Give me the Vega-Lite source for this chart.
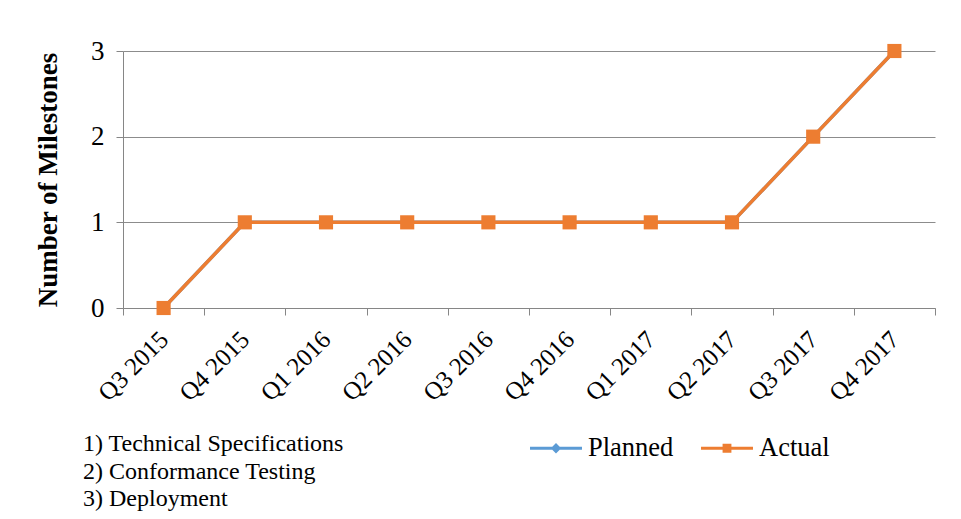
{
  "$schema": "https://vega.github.io/schema/vega-lite/v6.json",
  "width": 812,
  "height": 257,
  "autosize": "none",
  "padding": {"left": 123, "top": 51, "right": 26, "bottom": 211},
  "background": "white",
  "config": {
    "view": {"stroke": null},
    "font": "Liberation Serif"
  },
  "title": {
    "text": ["1) Technical Specifications", "2) Conformance Testing", "3) Deployment"],
    "orient": "bottom",
    "anchor": "start",
    "frame": "group",
    "dx": -40,
    "dy": -30,
    "offset": 0,
    "font": "Liberation Serif",
    "fontSize": 24,
    "fontWeight": "normal",
    "lineHeight": 27.5,
    "color": "black"
  },
  "data": {
    "values": [
      {"q": "Q3 2015", "series": "Planned", "v": 0},
      {"q": "Q4 2015", "series": "Planned", "v": 1},
      {"q": "Q1 2016", "series": "Planned", "v": 1},
      {"q": "Q2 2016", "series": "Planned", "v": 1},
      {"q": "Q3 2016", "series": "Planned", "v": 1},
      {"q": "Q4 2016", "series": "Planned", "v": 1},
      {"q": "Q1 2017", "series": "Planned", "v": 1},
      {"q": "Q2 2017", "series": "Planned", "v": 1},
      {"q": "Q3 2017", "series": "Planned", "v": 2},
      {"q": "Q4 2017", "series": "Planned", "v": 3},
      {"q": "Q3 2015", "series": "Actual", "v": 0},
      {"q": "Q4 2015", "series": "Actual", "v": 1},
      {"q": "Q1 2016", "series": "Actual", "v": 1},
      {"q": "Q2 2016", "series": "Actual", "v": 1},
      {"q": "Q3 2016", "series": "Actual", "v": 1},
      {"q": "Q4 2016", "series": "Actual", "v": 1},
      {"q": "Q1 2017", "series": "Actual", "v": 1},
      {"q": "Q2 2017", "series": "Actual", "v": 1},
      {"q": "Q3 2017", "series": "Actual", "v": 2},
      {"q": "Q4 2017", "series": "Actual", "v": 3}
    ]
  },
  "encoding": {
    "x": {
      "field": "q",
      "type": "ordinal",
      "sort": null,
      "scale": {"type": "band", "paddingInner": 0, "paddingOuter": 0},
      "axis": {
        "title": null,
        "tickBand": "extent",
        "domainColor": "#868686",
        "tickColor": "#868686",
        "tickSize": 7,
        "labelAngle": -45,
        "labelAlign": "right",
        "labelBaseline": "middle",
        "labelPadding": 20,
        "labelFont": "Liberation Serif",
        "labelFontSize": 25,
        "labelColor": "black",
        "grid": false
      }
    },
    "y": {
      "field": "v",
      "type": "quantitative",
      "scale": {"domain": [0, 3]},
      "axis": {
        "values": [0, 1, 2, 3],
        "format": "d",
        "title": "Number of Milestones",
        "titleFont": "Liberation Serif",
        "titleFontSize": 27,
        "titleFontWeight": "bold",
        "titleColor": "black",
        "titlePadding": 28,
        "domainColor": "#868686",
        "tickColor": "#868686",
        "tickSize": 7,
        "labelPadding": 12,
        "labelFont": "Liberation Serif",
        "labelFontSize": 27,
        "labelColor": "black",
        "grid": true,
        "gridColor": "#8c8c8c",
        "gridWidth": 1
      }
    },
    "color": {
      "field": "series",
      "type": "nominal",
      "sort": ["Planned", "Actual"],
      "scale": {"domain": ["Planned", "Actual"], "range": ["#5B9BD5", "#ED7D31"]},
      "legend": {
        "title": null,
        "orient": "none",
        "legendX": 407,
        "legendY": 371,
        "direction": "horizontal",
        "columns": 2,
        "columnPadding": 27,
        "labelFont": "Liberation Serif",
        "labelFontSize": 26.5,
        "labelColor": "black",
        "labelOffset": 6,
        "symbolSize": 2700,
        "symbolType": "square",
        "encode": {
          "symbols": {
            "update": {
              "shape": {"signal": "datum.value === 'Planned' ? 'M-1,-0.06H1V0.06H-1Z M-0.2,0L0,-0.2L0.2,0L0,0.2Z' : 'M-1,-0.06H1V0.06H-1Z M-0.17,-0.17H0.17V0.17H-0.17Z'"},
              "fill": {"signal": "datum.value === 'Planned' ? '#5B9BD5' : '#ED7D31'"},
              "stroke": {"value": null},
              "strokeWidth": {"value": 0},
              "opacity": {"value": 1}
            }
          }
        }
      }
    }
  },
  "layer": [
    {
      "transform": [{"filter": "datum.series === 'Planned'"}],
      "layer": [
        {"mark": {"type": "line", "strokeWidth": 3.5}},
        {"mark": {"type": "point", "shape": "diamond", "filled": true, "size": 180, "opacity": 1}}
      ]
    },
    {
      "transform": [{"filter": "datum.series === 'Actual'"}],
      "layer": [
        {"mark": {"type": "line", "strokeWidth": 3.5}},
        {"mark": {"type": "point", "shape": "square", "filled": true, "size": 200, "opacity": 1}}
      ]
    }
  ]
}
